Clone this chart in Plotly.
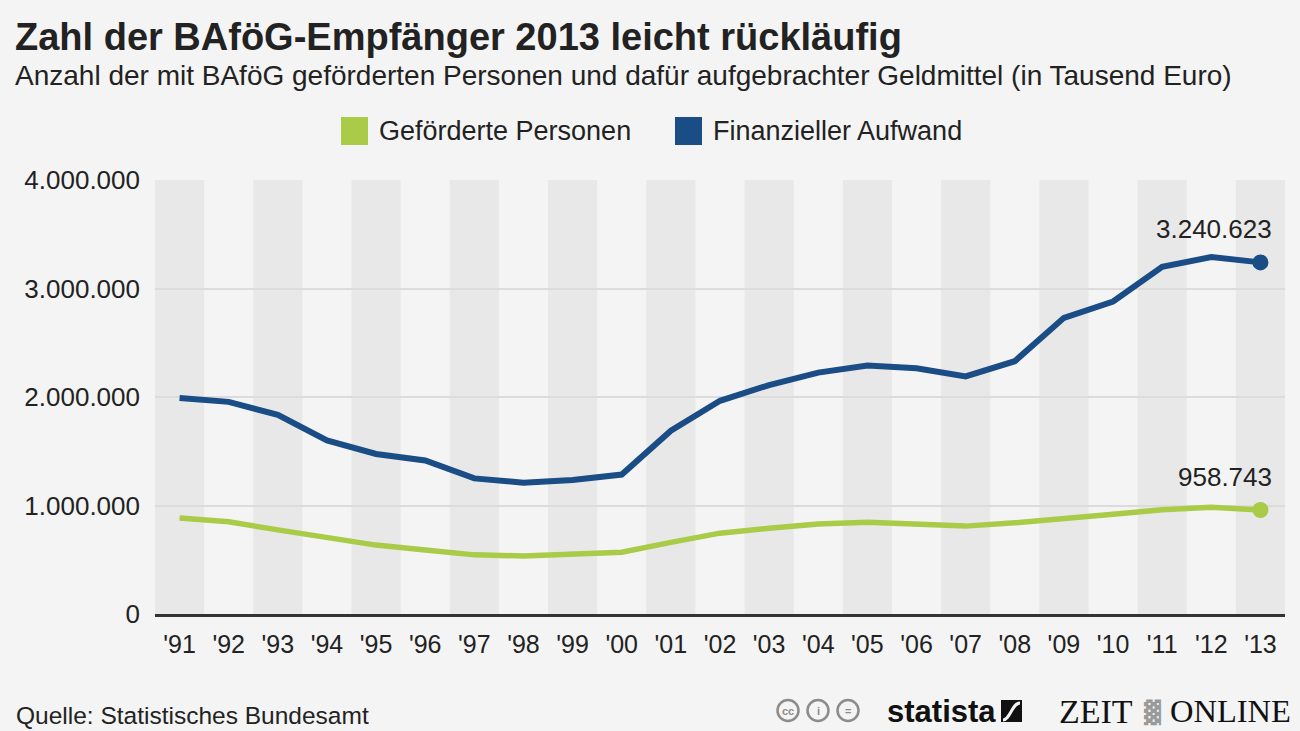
import plotly.graph_objects as go

years = ["'91", "'92", "'93", "'94", "'95", "'96", "'97", "'98", "'99", "'00", "'01", "'02",
         "'03", "'04", "'05", "'06", "'07", "'08", "'09", "'10", "'11", "'12", "'13"]
aufwand = [1990000, 1955000, 1835000, 1600000, 1475000, 1415000, 1250000, 1210000, 1235000,
           1285000, 1690000, 1965000, 2110000, 2225000, 2290000, 2265000, 2190000, 2330000,
           2730000, 2880000, 3200000, 3290000, 3240623]
personen = [885000, 850000, 775000, 700000, 635000, 590000, 545000, 535000, 550000, 570000,
            660000, 745000, 790000, 830000, 845000, 830000, 810000, 840000, 885000, 920000,
            960000, 985000, 958743]
series_names = ["Geförderte Personen", "Finanzieller Aufwand"]

BLUE = "#1a4c86"
GREEN = "#a9cb48"
FONT = "Liberation Sans, Arial, sans-serif"
TXT = "#222222"

# plot area in pixels: x 155..1285, y 180..614
L, R, T, B = 155, 15, 180, 117
PW, PH = 1300 - L - R, 731 - T - B
def px(x):
    return (x - L) / PW
def py(y):
    return (731 - B - y) / PH

def de(n):
    return f"{n:,}".replace(",", ".")

fig = go.Figure()

fig.add_trace(go.Scatter(x=years, y=personen, mode="lines", name=series_names[0],
                         line=dict(color=GREEN, width=5.5), showlegend=False, hoverinfo="skip"))
fig.add_trace(go.Scatter(x=years, y=aufwand, mode="lines", name=series_names[1],
                         line=dict(color=BLUE, width=6), showlegend=False, hoverinfo="skip"))
fig.add_trace(go.Scatter(x=years[-1:], y=personen[-1:], mode="markers",
                         marker=dict(color=GREEN, size=16), showlegend=False, hoverinfo="skip"))
fig.add_trace(go.Scatter(x=years[-1:], y=aufwand[-1:], mode="markers",
                         marker=dict(color=BLUE, size=16), showlegend=False, hoverinfo="skip"))

# alternating column bands
shapes = []
for i in range(0, len(years), 2):
    shapes.append(dict(type="rect", xref="x", yref="paper", x0=i - 0.5, x1=i + 0.5, y0=0, y1=1,
                       fillcolor="#e8e8e8", line=dict(width=0), layer="below"))

annotations = [
    dict(text="<b>Zahl der BAföG-Empfänger 2013 leicht rückläufig</b>", x=px(13), y=py(37),
         font=dict(size=38, color=TXT, family=FONT)),
    dict(text="Anzahl der mit BAföG geförderten Personen und dafür aufgebrachter Geldmittel (in Tausend Euro)",
         x=px(13), y=py(76), font=dict(size=28, color=TXT, family=FONT)),
    dict(text="Quelle: Statistisches Bundesamt", x=px(14), y=py(715),
         font=dict(size=24.5, color=TXT, family=FONT)),
]

# legend (squares + labels)
for (x0, tx), col, name in zip([(341, 377), (675, 711)], [GREEN, BLUE], series_names):
    shapes.append(dict(type="rect", xref="paper", yref="paper", x0=px(x0), x1=px(x0 + 27),
                       y0=py(145), y1=py(117), fillcolor=col, line=dict(width=0)))
    annotations.append(dict(text=name, x=px(tx), y=py(131), font=dict(size=27, color=TXT, family=FONT)))

# end value labels
for vals in (personen, aufwand):
    annotations.append(dict(text=de(vals[-1]), x=years[-1], y=vals[-1], xref="x", yref="y",
                            xanchor="right", yanchor="bottom", xshift=14, yshift=16,
                            font=dict(size=26, color=TXT, family=FONT)))

# footer logos
for cx, lab in [(788, "cc"), (818, "i"), (848, "=")]:
    shapes.append(dict(type="circle", xref="paper", yref="paper",
                       x0=px(cx - 10.5), x1=px(cx + 10.5), y0=py(721), y1=py(700),
                       line=dict(color="#8c8c8c", width=2.5), fillcolor="#f4f4f4"))
    annotations.append(dict(text=f"<b>{lab}</b>", x=px(cx), y=py(711), xanchor="center",
                            font=dict(size=11, color="#8c8c8c", family=FONT)))
shapes.append(dict(type="rect", xref="paper", yref="paper", x0=px(1001), x1=px(1022),
                   y0=py(722), y1=py(700), fillcolor="#111111", line=dict(width=0)))
shapes.append(dict(type="path", xref="paper", yref="paper",
                   path=f"M {px(1003)},{py(720)} C {px(1010)},{py(720)} {px(1012)},{py(703)} {px(1020)},{py(703)}",
                   line=dict(color="#f4f4f4", width=3)))
annotations += [
    dict(text="<b>statista</b>", x=px(998), y=py(711), xanchor="right",
         font=dict(size=31, color="#111111", family=FONT)),
    dict(text="ZEIT", x=px(1135), y=py(711), xanchor="right",
         font=dict(size=34, color="#111111", family="Liberation Serif, Times New Roman, serif")),
    dict(text="▓", x=px(1152), y=py(712), xanchor="center",
         font=dict(size=22, color="#9a9a9a", family="DejaVu Sans")),
    dict(text="ONLINE", x=px(1168), y=py(711), xanchor="left",
         font=dict(size=32.5, color="#111111", family="Liberation Serif, Times New Roman, serif")),
]
for a in annotations:
    a.setdefault("xref", "paper")
    a.setdefault("yref", "paper")
    a.setdefault("xanchor", "left")
    a.setdefault("yanchor", "middle")
    a["showarrow"] = False

fig.update_layout(
    width=1300, height=731,
    margin=dict(l=L, r=R, t=T, b=B),
    paper_bgcolor="#f4f4f4", plot_bgcolor="#f4f4f4",
    separators=",.",
    font=dict(family=FONT, color=TXT),
    showlegend=False,
    shapes=shapes,
    annotations=annotations,
    xaxis=dict(type="category", range=[-0.5, len(years) - 0.5], showgrid=False, showline=True,
               linecolor="#333333", linewidth=2.5, ticks="", ticklabelstandoff=6,
               tickfont=dict(size=25, color=TXT), fixedrange=True),
    yaxis=dict(range=[0, 4000000], tickvals=[0, 1000000, 2000000, 3000000, 4000000],
               tickformat=",d", showgrid=True, gridcolor="#dcdcdc", gridwidth=1.5, zeroline=False,
               ticks="", ticklabelstandoff=14, tickfont=dict(size=26, color=TXT), fixedrange=True),
)

fig.write_html("out.html", config={"displayModeBar": False},
               post_script="document.body.style.margin='0';document.body.style.overflow='hidden';")
